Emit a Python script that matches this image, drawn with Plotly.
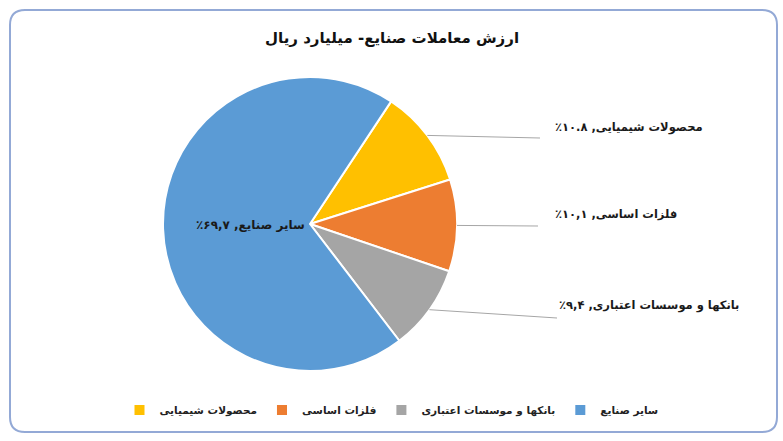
import math
import plotly.graph_objects as go

# ---- data ----
categories = ["محصولات شیمیایی", "فلزات اساسی", "بانکها و موسسات اعتباری", "سایر صنایع"]
values = [10.8, 10.1, 9.4, 69.7]
colors = ["#FFC000", "#ED7D31", "#A5A5A5", "#5B9BD5"]
decimal_sep = [".", ",", ",", ","]
title_text = "ارزش معاملات صنایع- میلیارد ریال"

W, H = 783, 441
FONT = "DejaVu Sans"
RLM = "\u200f"
PERSIAN = str.maketrans("0123456789", "۰۱۲۳۴۵۶۷۸۹")


def px(x):
    return x / W


def py(y):
    return 1 - y / H


def fmt(v, sep):
    s = f"{v:.1f}".replace(".", sep)
    return s.translate(PERSIAN)


# pie geometry (pixels)
cx, cy, R = 310, 224, 147
rotation = 33.5

fig = go.Figure(
    go.Pie(
        labels=categories,
        values=values,
        sort=False,
        direction="clockwise",
        rotation=rotation,
        marker=dict(colors=colors, line=dict(color="white", width=2)),
        textinfo="none",
        hoverinfo="label+percent",
        domain=dict(x=[px(cx - R), px(cx + R)], y=[py(cy + R), py(cy - R)]),
    )
)

shapes = []
annotations = []

# rounded border
x0, y0, x1, y1, r = 10, 10, 777, 432, 15
path = (
    f"M {px(x0 + r)},{py(y0)} L {px(x1 - r)},{py(y0)} "
    f"Q {px(x1)},{py(y0)} {px(x1)},{py(y0 + r)} "
    f"L {px(x1)},{py(y1 - r)} Q {px(x1)},{py(y1)} {px(x1 - r)},{py(y1)} "
    f"L {px(x0 + r)},{py(y1)} Q {px(x0)},{py(y1)} {px(x0)},{py(y1 - r)} "
    f"L {px(x0)},{py(y0 + r)} Q {px(x0)},{py(y0)} {px(x0 + r)},{py(y0)} Z"
)
shapes.append(dict(type="path", xref="paper", yref="paper", path=path,
                   line=dict(color="#93A9D6", width=2), layer="below"))

# outside labels with leader lines
label_end = [(540, 138), (538, 226), (557, 318)]
label_pos = [(553, 127), (553, 214), (557, 305)]
total = sum(values)
start = rotation
for i, v in enumerate(values):
    span = v / total * 360
    mid = math.radians(start + span / 2)
    start += span
    text = RLM + f"{categories[i]}, {fmt(v, decimal_sep[i])}٪" + RLM
    if i < 3:
        sx = cx + R * math.sin(mid)
        sy = cy - R * math.cos(mid)
        ex, ey = label_end[i]
        shapes.append(dict(type="line", xref="paper", yref="paper",
                           x0=px(sx), y0=py(sy), x1=px(ex), y1=py(ey),
                           line=dict(color="#A6A6A6", width=1)))
        lx, ly = label_pos[i]
        annotations.append(dict(x=px(lx), y=py(ly), xref="paper", yref="paper",
                                text=text, showarrow=False, xanchor="left",
                                yanchor="middle",
                                font=dict(family=FONT, size=11.5, color="#1a1a1a",
                                          weight="bold")))
    else:
        annotations.append(dict(x=px(250), y=py(225), xref="paper", yref="paper",
                                text=text, showarrow=False, xanchor="center",
                                yanchor="middle",
                                font=dict(family=FONT, size=12, color="#1a1a1a",
                                          weight="bold")))

# title
annotations.append(dict(x=px(392), y=py(38), xref="paper", yref="paper",
                        text=RLM + title_text + RLM, showarrow=False,
                        xanchor="center", yanchor="middle",
                        font=dict(family=FONT, size=15, color="#111111",
                                  weight="bold")))

fig.update_layout(
    width=W,
    height=H,
    margin=dict(l=0, r=0, t=0, b=0),
    paper_bgcolor="white",
    plot_bgcolor="white",
    shapes=shapes,
    annotations=annotations,
    showlegend=True,
    legend=dict(orientation="h", x=0.5, xanchor="center", y=py(410),
                yanchor="middle", itemwidth=30, traceorder="normal",
                font=dict(family=FONT, size=10.5, color="#222222", weight="bold")),
)

fig.write_html("out.html",
               config={"displayModeBar": False},
               post_script="document.body.style.margin='0';"
                           "document.body.style.overflow='hidden';")
